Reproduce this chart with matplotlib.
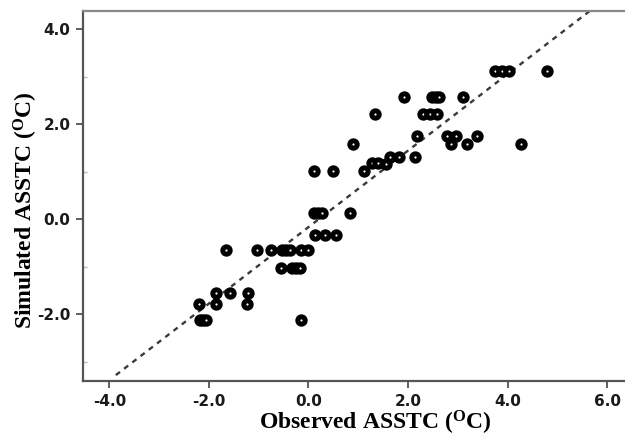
import matplotlib
matplotlib.use("Agg")
import matplotlib.pyplot as plt
import numpy as np

observed = [-2.20, -2.18, -2.12, -2.05, -1.86, -1.86, -1.65, -1.58, -1.22, -1.23,
            -1.03, -0.76, -0.54, -0.45, -0.37, -0.55, -0.33, -0.25, -0.17, -0.15,
            0.00, -0.15, 0.12, 0.20, 0.27, 0.83, 0.14, 0.34, 0.55, 0.11,
            0.49, 1.11, 1.27, 1.40, 1.56, 1.64, 1.82, 2.15, 0.90, 2.19,
            2.79, 2.96, 2.86, 3.19, 3.38, 4.27, 1.34, 2.31, 2.45, 2.58,
            1.92, 2.48, 2.56, 2.63, 3.11, 3.74, 3.88, 4.02, 4.80]
simulated = [-1.78, -2.13, -2.13, -2.13, -1.55, -1.78, -0.66, -1.55, -1.55, -1.78,
             -0.66, -0.66, -0.66, -0.66, -0.66, -1.04, -1.04, -1.04, -1.04, -0.66,
             -0.66, -2.13, 0.12, 0.12, 0.12, 0.12, -0.34, -0.34, -0.34, 1.01,
             1.01, 1.01, 1.17, 1.17, 1.15, 1.31, 1.31, 1.30, 1.58, 1.75,
             1.75, 1.75, 1.58, 1.58, 1.75, 1.58, 2.22, 2.22, 2.22, 2.22,
             2.57, 2.57, 2.57, 2.57, 2.57, 3.11, 3.11, 3.11, 3.11]

fit_slope = 0.805
fit_intercept = -0.17
fit_x_start = -3.87

x_ticks = [-4.0, -2.0, 0.0, 2.0, 4.0, 6.0]
y_ticks = [-2.0, 0.0, 2.0, 4.0]
y_minor = [-3.0, -1.0, 1.0, 3.0]

plt.rcParams['axes.unicode_minus'] = False
plt.rcParams['mathtext.fontset'] = 'custom'
plt.rcParams['mathtext.rm'] = 'Liberation Serif:bold'
plt.rcParams['mathtext.it'] = 'Liberation Serif:bold'
plt.rcParams['mathtext.bf'] = 'Liberation Serif:bold'

fig = plt.figure(figsize=(6.25, 4.36), dpi=100)
ax = fig.add_axes([0.1328, 0.1261, 0.8672, 0.8487])

ax.set_xlim(-4.53, 6.36)
ax.set_ylim(-3.41, 4.38)

xl = np.array([fit_x_start, 6.36])
ax.plot(xl, fit_slope * xl + fit_intercept, linestyle=(0, (2.2, 2.2)),
        color='#3a3a3a', linewidth=1.7, zorder=2)

ax.plot(observed, simulated, linestyle='none', marker='o', markersize=5.3,
        markerfacecolor='white', markeredgecolor='black', markeredgewidth=3.6,
        zorder=3)

ax.set_xticks(x_ticks)
ax.set_xticklabels(['%.1f' % v for v in x_ticks])
ax.set_yticks(y_ticks)
ax.set_yticklabels(['%.1f' % v for v in y_ticks])
ax.set_yticks(y_minor, minor=True)

for lab in ax.get_xticklabels() + ax.get_yticklabels():
    lab.set_fontfamily('DejaVu Sans')
    lab.set_fontweight('bold')
    lab.set_fontsize(11)
    lab.set_color('#1a1a1a')

ax.tick_params(axis='both', which='major', direction='out', length=5, width=1.2,
               color='#444444', pad=4)
ax.tick_params(axis='y', which='minor', direction='in', length=3, width=1,
               color='#bbbbbb')

for s in ['left', 'bottom', 'top']:
    ax.spines[s].set_color('#555555')
    ax.spines[s].set_linewidth(1.6)
ax.spines['top'].set_color('#888888')
ax.spines['right'].set_visible(False)

ax.set_xlabel(r'Observed ASSTC ($^{\mathrm{O}}$C)', fontfamily='Liberation Serif',
              fontweight='bold', fontsize=17, va='center')
ax.xaxis.set_label_coords(0.539, -0.113)
ax.set_ylabel(r'Simulated ASSTC ($^{\mathrm{O}}$C)', fontfamily='Liberation Serif',
              fontweight='bold', fontsize=17, va='center')
ax.yaxis.set_label_coords(-0.105, 0.462)

fig.savefig('out.png', dpi=100)
